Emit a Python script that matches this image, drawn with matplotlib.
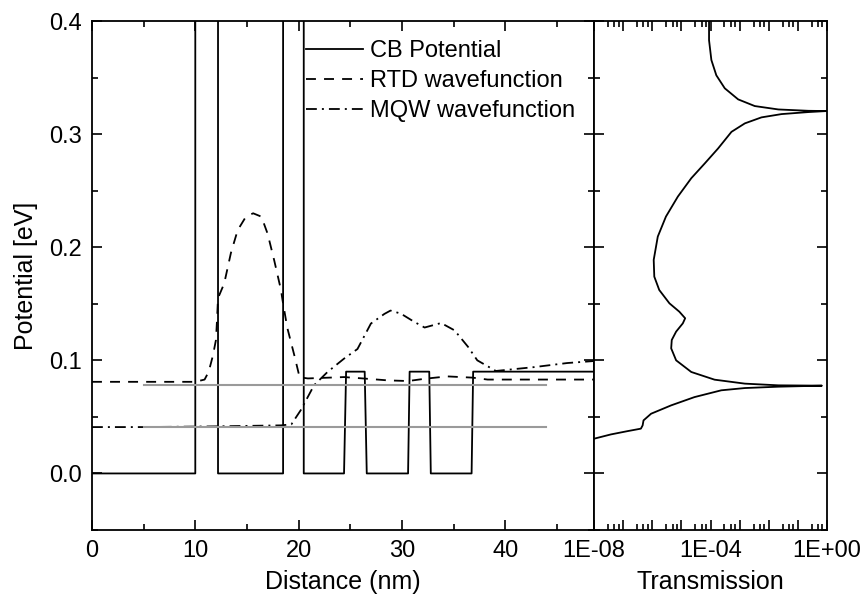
import numpy as np
import matplotlib
matplotlib.use("Agg")
import matplotlib.pyplot as plt
from matplotlib.ticker import MultipleLocator, FixedLocator, FuncFormatter, NullFormatter

plt.rcParams['font.family'] = ['Liberation Sans', 'DejaVu Sans']

# conduction band profile (nm, eV)
cb_x = [0, 10.0, 10.0, 12.2, 12.2, 18.5, 18.5, 20.5, 20.5, 24.4, 24.6, 26.4, 26.6,
        30.6, 30.75, 32.65, 32.8, 36.75, 36.9, 48.6]
cb_y = [0, 0, 1.0, 1.0, 0, 0, 1.0, 1.0, 0, 0, 0.09, 0.09, 0,
        0, 0.09, 0.09, 0, 0, 0.09, 0.09]

# RTD wavefunction (dashed)
rtd_x = [0, 10.0, 10.9, 11.3, 11.7, 12.0, 12.1, 12.2, 12.8, 13.45, 14.1, 14.9, 15.6,
         16.4, 17.0, 17.65, 18.3, 18.45, 18.9, 19.6, 20.1, 20.9, 24.4, 26.5, 28.6,
         30.6, 32.3, 34.4, 36.85, 38.3, 42.8, 48.6]
rtd_y = [0.081, 0.081, 0.083, 0.090, 0.104, 0.118, 0.135, 0.155, 0.168, 0.195, 0.215,
         0.227, 0.230, 0.227, 0.212, 0.188, 0.162, 0.153, 0.129, 0.104, 0.085, 0.084,
         0.0852, 0.0838, 0.0823, 0.0817, 0.0838, 0.0858, 0.0847, 0.083, 0.083, 0.083]

# MQW wavefunction (dash-dot)
mqw_x = [0, 5.0, 11.8, 18.3, 19.3, 20.2, 21.5, 22.8, 24.4, 25.7, 27.0, 28.3, 28.9,
         29.9, 31.2, 32.2, 33.8, 35.1, 36.4, 37.3, 39.1, 42.8, 46.0, 48.6]
mqw_y = [0.041, 0.041, 0.0416, 0.0425, 0.0434, 0.0558, 0.078, 0.0897, 0.1015, 0.110,
         0.1325, 0.141, 0.144, 0.1413, 0.134, 0.129, 0.133, 0.1265, 0.112, 0.100,
         0.0906, 0.094, 0.0976, 0.0994]

# bound state levels (grey)
level_y = [0.078, 0.041]
level_x0 = 5.0
level_x1 = 44.0

# transmission spectrum: energy (eV) vs log10(T)
tr_e = [0.401, 0.383, 0.3655, 0.352, 0.3405, 0.3307, 0.3248, 0.3218, 0.3206, 0.3204,
        0.3195, 0.3177, 0.3148, 0.3095, 0.302, 0.2873, 0.274, 0.261, 0.2448, 0.2271,
        0.2094, 0.1888, 0.174, 0.1622, 0.1504, 0.143, 0.1372, 0.1327, 0.1254, 0.118,
        0.1106, 0.100, 0.0897, 0.0829, 0.0794, 0.0779, 0.0776, 0.0767, 0.0755, 0.0735,
        0.0675, 0.0602, 0.0528, 0.0469, 0.0425, 0.0396, 0.0374, 0.0345, 0.0307]
tr_logT = [-4.05, -4.05, -3.97, -3.80, -3.51, -3.05, -2.48, -1.67, -0.635, 0.0,
           -0.635, -1.56, -2.25, -2.82, -3.28, -3.74, -4.2, -4.66, -5.12, -5.53,
           -5.81, -5.95, -5.93, -5.76, -5.41, -5.07, -4.87, -4.95, -5.18, -5.33,
           -5.35, -5.18, -4.66, -3.86, -2.82, -1.67, -0.175, -1.67, -2.82, -3.63,
           -4.55, -5.35, -6.04, -6.30, -6.33, -6.39, -6.85, -7.42, -8.0]

W, H = 860, 599
fig = plt.figure(figsize=(W / 100, H / 100), dpi=100)
ax = fig.add_axes([92 / W, 1 - 530 / H, (594 - 92) / W, (530 - 21) / H])
ax2 = fig.add_axes([594 / W, 1 - 530 / H, (827 - 594) / W, (530 - 21) / H], sharey=ax)

lw = 1.3
ax.plot(cb_x, cb_y, color='black', lw=lw, label='CB Potential')
ax.plot(rtd_x, rtd_y, color='black', lw=lw, dashes=(5.5, 4.5), label='RTD wavefunction')
ax.plot(mqw_x, mqw_y, color='black', lw=lw, dashes=(6, 2.8, 1.1, 2.8), label='MQW wavefunction')
for ly in level_y:
    ax.plot([level_x0, level_x1], [ly, ly], color='#9a9a9a', lw=1.5)

ax.set_xlim(0, 48.6)
ax.set_ylim(-0.05, 0.4)
ax.xaxis.set_major_locator(FixedLocator([0, 10, 20, 30, 40]))
ax.xaxis.set_minor_locator(MultipleLocator(5))
ax.yaxis.set_major_locator(MultipleLocator(0.1))
ax.yaxis.set_minor_locator(MultipleLocator(0.05))
ax.yaxis.set_major_formatter(FuncFormatter(lambda v, p: f"{v:.1f}"))
ax.set_xlabel('Distance (nm)', fontsize=18, labelpad=6)
ax.set_ylabel('Potential [eV]', fontsize=18, labelpad=8)

ax.legend(loc='upper left', bbox_to_anchor=(0.426, 0.962), frameon=False, fontsize=17,
          handlelength=2.4, handletextpad=0.3, labelspacing=0.33, borderpad=0,
          borderaxespad=0)

ax2.plot(10 ** np.array(tr_logT), tr_e, color='black', lw=lw)
ax2.set_xscale('log')
ax2.set_xlim(1e-8, 1)
ax2.xaxis.set_major_locator(FixedLocator([10.0 ** k for k in range(-8, 1)]))
ax2.xaxis.set_minor_locator(FixedLocator([s * 10.0 ** k for k in range(-8, 0) for s in (3, 5, 7)]))
ax2.xaxis.set_major_formatter(FuncFormatter(
    lambda v, p: f"1E{int(round(np.log10(v))):+03d}" if int(round(np.log10(v))) % 4 == 0 else ""))
ax2.xaxis.set_minor_formatter(NullFormatter())
ax2.set_xlabel('Transmission', fontsize=18, labelpad=6)
ax2.tick_params(axis='y', labelleft=False)

for a in (ax, ax2):
    for s in a.spines.values():
        s.set_linewidth(1.3)
    a.tick_params(which='both', direction='in', top=True, right=True, width=1.2,
                  labelsize=17, pad=7)
    a.tick_params(which='major', length=7)
    a.tick_params(which='minor', length=4)

fig.savefig('out.png', dpi=100)
